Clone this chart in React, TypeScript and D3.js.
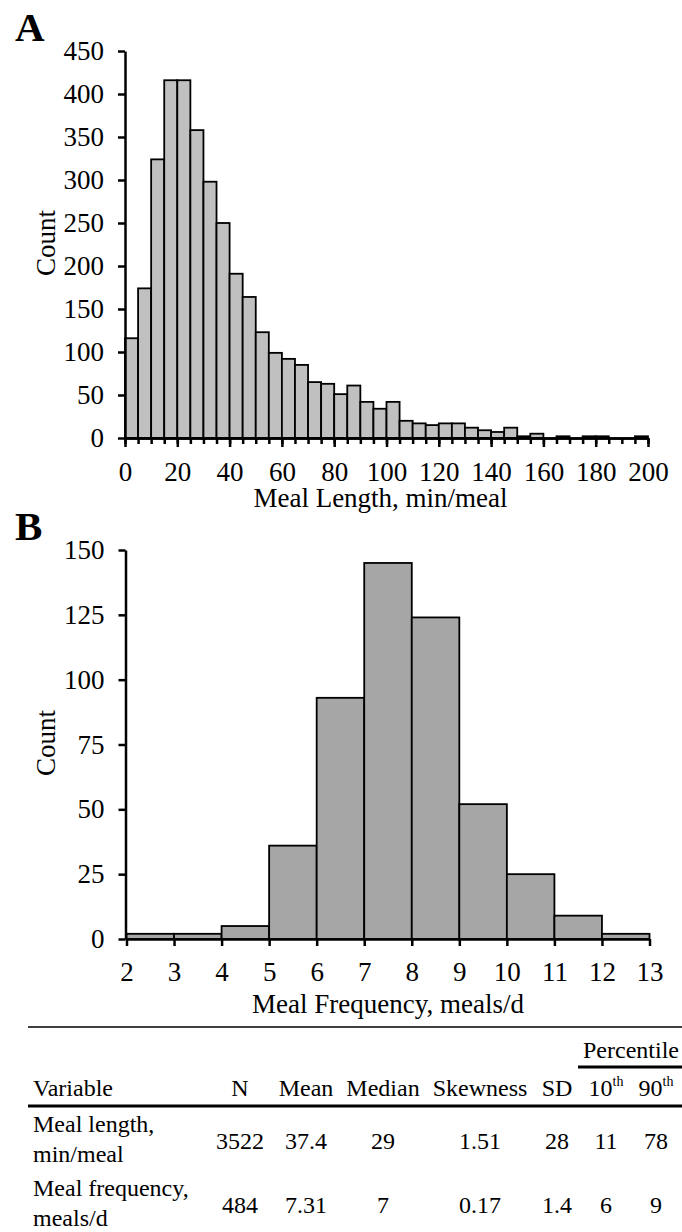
import React, { useEffect, useRef } from "react";
import * as d3 from "d3";

// Panel A: meal length histogram, 5-min bins from 0 to 200
const mealLengthBinWidth = 5;
const mealLengthCounts = [
  116, 174, 324, 416, 416, 358, 298, 250, 191, 164, 123, 99, 92, 85, 65, 63,
  51, 61, 42, 34, 42, 20, 17, 15, 17, 17, 12, 9, 7, 12, 2, 5, 0, 2, 0, 2, 2, 0,
  0, 2,
];
const mealLengthTicks = [0, 20, 40, 60, 80, 100, 120, 140, 160, 180, 200];
const countTicksA = [0, 50, 100, 150, 200, 250, 300, 350, 400, 450];

// Panel B: meal frequency histogram, 1 meal/d bins from 2 to 13
const mealFreqStart = 2;
const mealFreqCounts = [2, 2, 5, 36, 93, 145, 124, 52, 25, 9, 2];
const mealFreqTicks = [2, 3, 4, 5, 6, 7, 8, 9, 10, 11, 12, 13];
const countTicksB = [0, 25, 50, 75, 100, 125, 150];

// Summary table
const tableColumns = ["N", "Mean", "Median", "Skewness", "SD", "10", "90"];
const rowLabels = [
  ["Meal length,", "min/meal"],
  ["Meal frequency,", "meals/d"],
];
const rowValues = [
  ["3522", "37.4", "29", "1.51", "28", "11", "78"],
  ["484", "7.31", "7", "0.17", "1.4", "6", "9"],
];

const font = "'Liberation Serif', 'Times New Roman', serif";
const labelSize = 27;

export default function App() {
  const ref = useRef<SVGSVGElement | null>(null);

  useEffect(() => {
    const svg = d3.select(ref.current);
    svg.selectAll("*").remove();

    // ---------- Panel A ----------
    const xA = d3.scaleLinear().domain([0, 200]).range([125, 648]);
    const yA = d3.scaleLinear().domain([0, 450]).range([438, 51]);
    const gA = svg.append("g");

    gA.selectAll("rect")
      .data(mealLengthCounts.map((v, i) => ({ v, i })).filter((d) => d.v > 0))
      .enter()
      .append("rect")
      .attr("x", (d) => xA(d.i * mealLengthBinWidth))
      .attr("y", (d) => yA(d.v))
      .attr("width", xA(mealLengthBinWidth) - xA(0))
      .attr("height", (d) => yA(0) - yA(d.v))
      .attr("fill", "#c0c0c0")
      .attr("stroke", "#000")
      .attr("stroke-width", 1.8);

    // minor ticks every bin
    gA.append("g")
      .attr("transform", `translate(0, ${yA(0)})`)
      .call(
        d3
          .axisBottom(xA)
          .tickValues(d3.range(0, 201, mealLengthBinWidth))
          .tickSize(6)
          .tickSizeOuter(0)
          .tickFormat(() => "")
      );
    // major ticks with labels
    gA.append("g")
      .attr("transform", `translate(0, ${yA(0)})`)
      .call(
        d3
          .axisBottom(xA)
          .tickValues(mealLengthTicks)
          .tickSize(9)
          .tickSizeOuter(0)
          .tickPadding(15)
      );
    gA.append("g")
      .attr("transform", `translate(${xA(0)}, 0)`)
      .call(
        d3.axisLeft(yA).tickValues(countTicksA).tickSize(7).tickSizeOuter(0).tickPadding(14)
      );

    gA.append("text")
      .attr("x", 15)
      .attr("y", 41)
      .attr("font-weight", "bold")
      .attr("font-size", 41)
      .text("A");
    gA.append("text")
      .attr("transform", `translate(55, 243) rotate(-90)`)
      .attr("text-anchor", "middle")
      .attr("font-size", labelSize)
      .text("Count");
    gA.append("text")
      .attr("x", (xA(0) + xA(200)) / 2 - 6)
      .attr("y", 507)
      .attr("text-anchor", "middle")
      .attr("font-size", labelSize)
      .text("Meal Length, min/meal");

    // ---------- Panel B ----------
    const xB = d3.scaleLinear().domain([2, 13]).range([126.5, 649.5]);
    const yB = d3.scaleLinear().domain([0, 150]).range([939, 550]);
    const gB = svg.append("g");

    gB.selectAll("rect")
      .data(mealFreqCounts.map((v, i) => ({ v, i })))
      .enter()
      .append("rect")
      .attr("x", (d) => xB(mealFreqStart + d.i))
      .attr("y", (d) => yB(d.v))
      .attr("width", xB(1) - xB(0))
      .attr("height", (d) => yB(0) - yB(d.v))
      .attr("fill", "#a6a6a6")
      .attr("stroke", "#000")
      .attr("stroke-width", 1.8);

    gB.append("g")
      .attr("transform", `translate(0, ${yB(0)})`)
      .call(
        d3.axisBottom(xB).tickValues(mealFreqTicks).tickSize(7).tickSizeOuter(0).tickPadding(16)
      );
    gB.append("g")
      .attr("transform", `translate(${xB(2) - 1}, 0)`)
      .call(
        d3.axisLeft(yB).tickValues(countTicksB).tickSize(7).tickSizeOuter(0).tickPadding(14)
      );

    gB.append("text")
      .attr("x", 15)
      .attr("y", 540)
      .attr("font-weight", "bold")
      .attr("font-size", 41)
      .text("B");
    gB.append("text")
      .attr("transform", `translate(55, 743) rotate(-90)`)
      .attr("text-anchor", "middle")
      .attr("font-size", labelSize)
      .text("Count");
    gB.append("text")
      .attr("x", (xB(2) + xB(13)) / 2)
      .attr("y", 1013)
      .attr("text-anchor", "middle")
      .attr("font-size", labelSize)
      .text("Meal Frequency, meals/d");

    // axis styling
    svg.selectAll(".domain").attr("stroke-width", 2.5);
    svg.selectAll(".tick line").attr("stroke-width", 2.5);
    svg.selectAll(".tick text").attr("font-size", labelSize).attr("font-family", font);

    // ---------- Table ----------
    const colX = [240, 306, 383, 480, 557, 606, 656];
    const gT = svg.append("g").attr("font-size", 24);

    gT.append("line")
      .attr("x1", 28).attr("x2", 682).attr("y1", 1027).attr("y2", 1027)
      .attr("stroke", "#000").attr("stroke-width", 1.5);
    gT.append("text")
      .attr("x", 631).attr("y", 1058).attr("text-anchor", "middle")
      .text("Percentile");
    gT.append("line")
      .attr("x1", 578).attr("x2", 682).attr("y1", 1067).attr("y2", 1067)
      .attr("stroke", "#000").attr("stroke-width", 3);

    gT.append("text").attr("x", 33).attr("y", 1096).text("Variable");
    const heads = gT
      .selectAll(".head")
      .data(tableColumns)
      .enter()
      .append("text")
      .attr("class", "head")
      .attr("x", (d, i) => colX[i])
      .attr("y", 1096)
      .attr("text-anchor", "middle");
    heads.append("tspan").text((d) => d);
    heads
      .filter((d, i) => i >= 5)
      .append("tspan")
      .attr("dy", -10)
      .attr("font-size", 14)
      .text("th");

    gT.append("line")
      .attr("x1", 28).attr("x2", 682).attr("y1", 1106).attr("y2", 1106)
      .attr("stroke", "#000").attr("stroke-width", 3);

    const rowY = [1132, 1196];
    rowLabels.forEach((lbl, r) => {
      lbl.forEach((t, k) => {
        gT.append("text").attr("x", 33).attr("y", rowY[r] + k * 30).text(t);
      });
      gT.selectAll(`.val${r}`)
        .data(rowValues[r])
        .enter()
        .append("text")
        .attr("class", `val${r}`)
        .attr("x", (d, i) => colX[i])
        .attr("y", rowY[r] + 17)
        .attr("text-anchor", "middle")
        .text((d) => d);
    });
  }, []);

  return (
    <svg
      ref={ref}
      width={682}
      height={1232}
      style={{ position: "absolute", left: 0, top: 0, background: "#fff" }}
      fontFamily={font}
    />
  );
}
